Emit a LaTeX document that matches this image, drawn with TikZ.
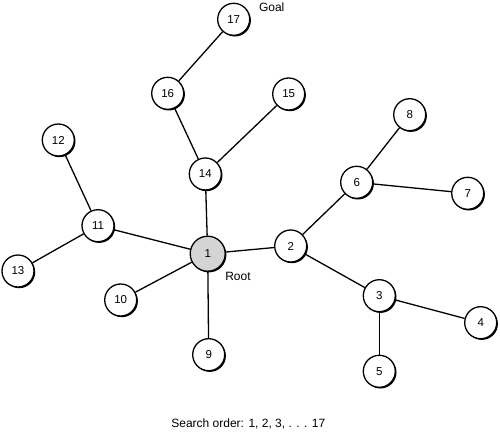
\documentclass[tikz,border=0pt]{standalone}
\usepackage{fontspec}
\setmainfont{Liberation Sans}
\usetikzlibrary{shadows}

\begin{document}
\begin{tikzpicture}[x=1pt,y=-1pt,
        vertex/.style={circle, draw=black, line width=1.3pt, fill=white, minimum size=32pt, inner sep=0pt,
                font=\fontsize{11.5}{13}\selectfont,
                drop shadow={shadow xshift=1.2pt, shadow yshift=-1.2pt, fill=black, opacity=1}},
        root/.style={vertex, fill=black!17, minimum size=35pt},
        lbl/.style={font=\fontsize{12}{14}\selectfont},
        edge/.style={black, line width=1.3pt}]
        \useasboundingbox (0,0) rectangle (500,431);
        % nodes
        \node[root]   (n1)  at (207.7,253.7) {1};
        \node[vertex] (n2)  at (290.7,246) {2};
        \node[vertex] (n3)  at (379.3,295.7) {3};
        \node[vertex] (n4)  at (480.7,322.7) {4};
        \node[vertex] (n5)  at (379.3,371.3) {5};
        \node[vertex] (n6)  at (356.7,182.3) {6};
        \node[vertex] (n7)  at (467.7,193.3) {7};
        \node[vertex] (n8)  at (409.7,114.7) {8};
        \node[vertex] (n9)  at (208.7,354.7) {9};
        \node[vertex] (n10) at (120.7,300) {10};
        \node[vertex] (n11) at (98,225.7) {11};
        \node[vertex] (n12) at (58.3,140) {12};
        \node[vertex] (n13) at (18,271) {13};
        \node[vertex] (n14) at (205.3,174) {14};
        \node[vertex] (n15) at (288.7,94) {15};
        \node[vertex] (n16) at (167.7,93.3) {16};
        \node[vertex] (n17) at (233.7,19.3) {17};
        % edges
        \draw[edge] (n17) -- (n16);
        \draw[edge] (n16) -- (n14);
        \draw[edge] (n15) -- (n14);
        \draw[edge] (n14) -- (n1);
        \draw[edge] (n12) -- (n11);
        \draw[edge] (n11) -- (n1);
        \draw[edge] (n11) -- (n13);
        \draw[edge] (n1) -- (n10);
        \draw[edge] (n1) -- (n9);
        \draw[edge] (n1) -- (n2);
        \draw[edge] (n2) -- (n6);
        \draw[edge] (n6) -- (n8);
        \draw[edge] (n6) -- (n7);
        \draw[edge] (n2) -- (n3);
        \draw[edge] (n3) -- (n4);
        \draw[edge] (n3) -- (n5);
        % labels
        \node[lbl] (goal) at (271.7,7.3) {Goal};
        \node[lbl] (rootlbl) at (238,276.3) {Root};
        \node[lbl] (order) at (248.3,424) {Search order: 1, 2, 3, . . . 17};
\end{tikzpicture}
\end{document}
